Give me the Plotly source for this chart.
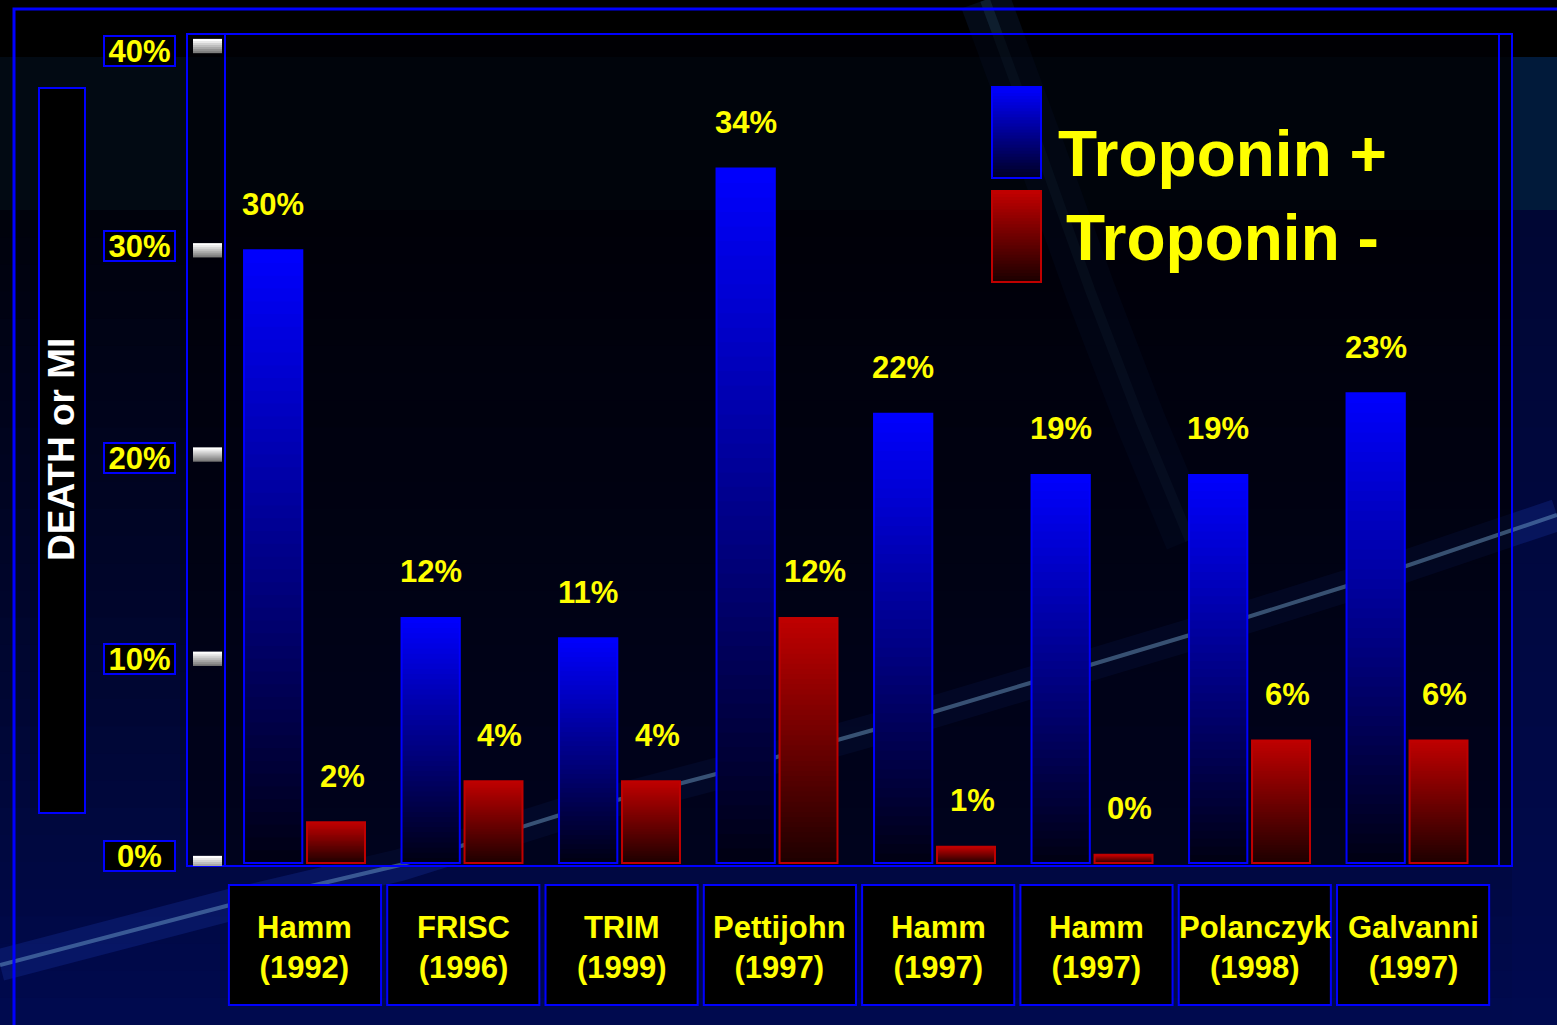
import plotly.graph_objects as go

# ---------------- data ----------------
studies = ["Hamm", "FRISC", "TRIM", "Pettijohn", "Hamm", "Hamm", "Polanczyk", "Galvanni"]
years = ["1992", "1996", "1999", "1997", "1997", "1997", "1998", "1997"]
trop_pos = [30, 12, 11, 34, 22, 19, 19, 23]
trop_neg = [2, 4, 4, 12, 0.8, 0.4, 6, 6]
tick_vals = [0, 10, 20, 30, 40]
tick_text = ["0%", "10%", "20%", "30%", "40%"]
series_names = ["Troponin +", "Troponin -"]
y_title = "DEATH or MI"

# ---------------- layout helpers (pixel -> paper) ----------------
W, H = 1557, 1025
L, R, T, B = 225, 1499, 35, 866
def PX(x):
    return (x - L) / (R - L)
def PY(y):
    return (B - y) / (B - T)

YEL = "#ffff00"
BLUE = "#0000ff"
FONT = "Liberation Sans, Arial, sans-serif"

idx = list(range(len(studies)))
N = 48
fig = go.Figure()

# gradient fill via stacked, slightly overlapping segments
def seg_heights(vals, k):
    return [v / N if k == N - 1 else 2.0 * v / N for v in vals]

for k in range(N):
    f = (k + 0.5) / N
    bcol = "rgb(0,0,%d)" % int(18 + 237 * f)
    rcol = "rgb(%d,0,0)" % int(30 + 162 * f)
    fig.add_trace(go.Bar(x=idx, y=seg_heights(trop_pos, k), base=[v * k / N for v in trop_pos],
                         offset=-0.384, width=0.37, marker=dict(color=bcol, line=dict(width=0)),
                         showlegend=False, hoverinfo="skip"))
    fig.add_trace(go.Bar(x=idx, y=seg_heights(trop_neg, k), base=[v * k / N for v in trop_neg],
                         offset=0.016, width=0.368, marker=dict(color=rcol, line=dict(width=0)),
                         showlegend=False, hoverinfo="skip"))
# outlines
fig.add_trace(go.Bar(x=idx, y=trop_pos, offset=-0.384, width=0.37, name=series_names[0],
                     marker=dict(color="rgba(0,0,0,0)", line=dict(color=BLUE, width=2)), showlegend=False))
fig.add_trace(go.Bar(x=idx, y=trop_neg, offset=0.016, width=0.368, name=series_names[1],
                     marker=dict(color="rgba(0,0,0,0)", line=dict(color="#c00000", width=2)), showlegend=False))

shapes = []
def rect(x0, y0, x1, y1, fill=None, line=None, lw=0, xref="paper", yref="paper"):
    d = dict(type="rect", xref=xref, yref=yref, x0=x0, y0=y0, x1=x1, y1=y1, layer="below",
             line=dict(width=lw, color=line if line else "rgba(0,0,0,0)"))
    if fill:
        d["fillcolor"] = fill
    return d

# background bands
shapes.append(rect(PX(0), PY(0), PX(W), PY(57), fill="#000000"))
shapes.append(rect(PX(0), PY(57), PX(W), PY(210), fill="#020a13"))
nb = 30
for j in range(nb):
    y0 = 210 + (H - 210) * j / nb
    y1 = 210 + (H - 210) * (j + 1.6) / nb
    f = j / (nb - 1)
    shapes.append(rect(PX(0), PY(y0), PX(W), PY(min(y1, H)), fill="rgb(0,%d,%d)" % (int(2 + 8 * f), int(12 + 66 * f))))
shapes.append(rect(PX(1512), PY(57), PX(W), PY(210), fill="#011a3a"))
shapes.append(rect(PX(1512), PY(210), PX(W), PY(H), fill="rgba(0,10,80,0.6)"))
# light streaks
streak = [(0, 965), (230, 905), (400, 865), (560, 815), (720, 773), (873, 730), (1030, 683),
          (1190, 635), (1350, 585), (1557, 515)]
path = "M " + " L ".join("%f,%f" % (PX(a), PY(b)) for a, b in streak)
shapes.append(dict(type="path", xref="paper", yref="paper", path=path, layer="below",
                   line=dict(color="rgba(30,70,200,0.22)", width=32)))
beam = [(985, 0), (1040, 150), (1090, 290), (1140, 420), (1190, 540)]
bpath = "M " + " L ".join("%f,%f" % (PX(a), PY(b)) for a, b in beam)
shapes.append(dict(type="path", xref="paper", yref="paper", path=bpath, layer="below",
                   line=dict(color="rgba(30,80,160,0.14)", width=50)))
shapes.append(dict(type="path", xref="paper", yref="paper", path=bpath, layer="below",
                   line=dict(color="rgba(70,130,170,0.16)", width=10)))
# plot-area darkening
shapes.append(rect(PX(187), PY(34), PX(1512), PY(866), fill="rgba(0,0,6,0.6)"))
# bright core of the streak (visible through the plot area)
shapes.append(dict(type="path", xref="paper", yref="paper", path=path, layer="below",
                   line=dict(color="rgba(120,170,210,0.45)", width=4)))

# frames
shapes.append(rect(PX(14), PY(9), PX(W + 40), PY(H + 40), line=BLUE, lw=3))
shapes.append(rect(PX(187), PY(34), PX(1512), PY(866), line=BLUE, lw=2))
shapes.append(dict(type="line", xref="paper", yref="paper", x0=PX(225), x1=PX(225), y0=PY(34), y1=PY(866),
                   line=dict(color=BLUE, width=2), layer="below"))
shapes.append(dict(type="line", xref="paper", yref="paper", x0=PX(1499), x1=PX(1499), y0=PY(34), y1=PY(866),
                   line=dict(color=BLUE, width=2), layer="below"))
# y title box
shapes.append(rect(PX(39), PY(88), PX(85), PY(813), fill="#000000", line=BLUE, lw=2))

# white tick marks (gradient white -> grey)
for t in tick_vals:
    ns = 7
    for s in range(ns):
        g = int(255 - 130 * s / (ns - 1))
        top = t + 0.35 - 0.7 * s / ns
        bot = max(t - 0.35, top - 0.7 * 1.6 / ns)
        shapes.append(dict(type="rect", xref="paper", yref="y", x0=PX(193), x1=PX(222),
                           y0=bot, y1=top,
                           fillcolor="rgb(%d,%d,%d)" % (g, g, g), line=dict(width=0), layer="above"))

# category boxes
box_scale = 158.3 / 157.5
for i in idx:
    c = i * box_scale + 0.003
    shapes.append(dict(type="rect", xref="x", yref="paper", x0=c - 0.483, x1=c + 0.483,
                       y0=PY(1005), y1=PY(885), fillcolor="#000000", line=dict(color=BLUE, width=2),
                       layer="below"))

# legend swatches
def swatch(y0p, y1p, top, bot, border):
    out = []
    ns = 30
    for s in range(ns):
        f = s / (ns - 1)
        col = "rgb(%d,%d,%d)" % tuple(int(top[c] * (1 - f) + bot[c] * f) for c in range(3))
        ya = y0p + (y1p - y0p) * s / ns
        yb = min(y1p, y0p + (y1p - y0p) * (s + 1.7) / ns)
        out.append(rect(PX(992), PY(ya), PX(1041), PY(yb), fill=col))
    out.append(rect(PX(992), PY(y0p), PX(1041), PY(y1p), line=border, lw=2))
    return out
shapes += swatch(87, 178, (0, 0, 255), (0, 0, 40), BLUE)
shapes += swatch(191, 282, (192, 0, 0), (30, 0, 0), "#c00000")

ann = []
# value labels
for i, v in enumerate(trop_pos):
    ann.append(dict(x=i - 0.199, y=v, xref="x", yref="y", text="<b>%d%%</b>" % round(v),
                    xanchor="center", yanchor="middle",
                    showarrow=False, yshift=46, font=dict(family=FONT, size=31, color=YEL)))
for i, v in enumerate(trop_neg):
    ann.append(dict(x=i + 0.2, y=v, xref="x", yref="y", text="<b>%d%%</b>" % round(v),
                    xanchor="center", yanchor="middle",
                    showarrow=False, yshift=46, xshift=6, font=dict(family=FONT, size=31, color=YEL)))
# category labels
for i in idx:
    c = i * box_scale + 0.003
    ann.append(dict(x=c, y=PY(947), xref="x", yref="paper", text="<b>%s<br>(%s)</b>" % (studies[i], years[i]),
                    xanchor="center", yanchor="middle",
                    showarrow=False, font=dict(family=FONT, size=31, color=YEL)))
# tick labels (boxes sit slightly off the tick marks in the original slide)
label_nudge = {0: 7, 10: 0, 20: -3, 30: 4, 40: -5}
for t, tt in zip(tick_vals, tick_text):
    ann.append(dict(x=PX(139.5), y=t, xref="paper", yref="y", text="<b>%s</b>" % tt, showarrow=False,
                    xanchor="center", yanchor="middle", yshift=label_nudge[t],
                    bgcolor="#000000", bordercolor=BLUE, borderwidth=2, borderpad=0, width=69, height=28,
                    font=dict(family=FONT, size=31, color=YEL)))
# y title
ann.append(dict(x=PX(62), y=PY(450), xref="paper", yref="paper", text="<b>%s</b>" % y_title,
                xanchor="center", yanchor="middle",
                textangle=-90, showarrow=False, font=dict(family=FONT, size=37, color="#ffffff")))
# legend texts
ann.append(dict(x=PX(1056), y=PY(154), xref="paper", yref="paper", xanchor="left", yanchor="middle",
                text="<b>%s</b>" % series_names[0],
                showarrow=False, font=dict(family=FONT, size=64, color=YEL)))
ann.append(dict(x=PX(1064), y=PY(238), xref="paper", yref="paper", xanchor="left", yanchor="middle",
                text="<b>%s</b>" % series_names[1],
                showarrow=False, font=dict(family=FONT, size=64, color=YEL)))

fig.update_layout(
    width=W, height=H, autosize=False,
    margin=dict(l=L, r=W - R, t=T, b=H - B, pad=0),
    paper_bgcolor="#00000c", plot_bgcolor="rgba(0,0,0,0)",
    barmode="overlay", showlegend=False, hovermode=False,
    xaxis=dict(range=[-0.5048, 7.584], visible=False, fixedrange=True),
    yaxis=dict(range=[-0.147, 40.54], visible=False, fixedrange=True),
    shapes=shapes, annotations=ann,
)
fig.write_html("out.html", config={"displayModeBar": False},
               post_script="document.body.style.margin='0';document.body.style.background='#00000c';")
